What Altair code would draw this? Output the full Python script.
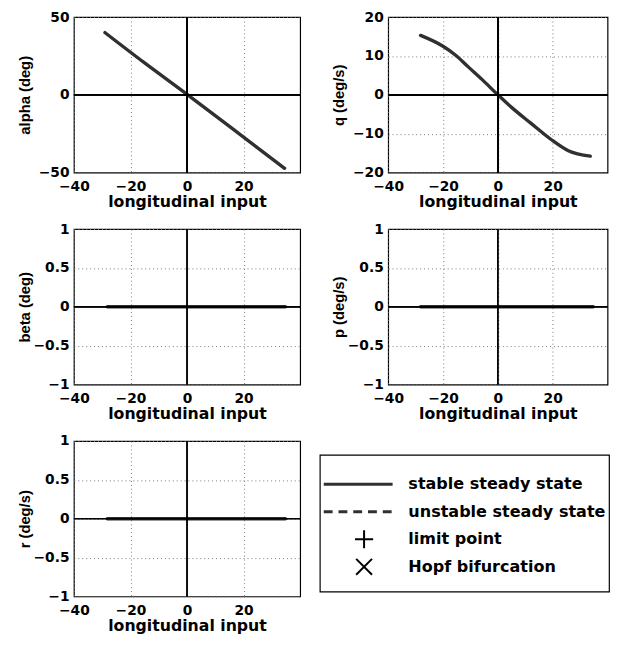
import altair as alt
import pandas as pd

# ---------------- data ----------------
x_ticks = [-40, -20, 0, 20]

alpha_x = [-29.0, -15.0, 0.0, 15.0, 34.5]
alpha_y = [40.0, 20.5, 0.3, -20.3, -47.3]

q_x = [-28.2, -20.0, -15.4, -10.9, -5.7, 0.0, 5.1, 12.0, 19.4, 25.7, 33.7]
q_y = [15.3, 12.5, 10.2, 7.25, 3.9, 0.0, -3.3, -7.3, -11.5, -14.4, -15.8]

flat_x = [-28.2, 0.0, 34.8]
beta_y = [0.0, 0.0, 0.0]
p_y = [0.0, 0.0, 0.0]
r_y = [0.0, 0.0, 0.0]

alpha_ticks = [-50, 0, 50]
q_ticks = [-20, -10, 0, 10, 20]
unit_ticks = [-1, -0.5, 0, 0.5, 1]

legend_labels = ["stable steady state", "unstable steady state", "limit point", "Hopf bifurcation"]
legend_order = [0, 1, 2, 3]

LINE_COLOR = "#303030"
TICK_FONT = "DejaVu Sans"
YTITLE_FONT = "Liberation Sans"

PLUS_PATH = "M-1,0H1M0,-1V1"
CROSS_PATH = "M-1,-1L1,1M-1,1L1,-1"

PANEL_H = 158


def panel(xs, ys, ytitle, ydomain, yticks, width, title_x):
    df = pd.DataFrame({"x": xs, "y": ys})
    xenc = alt.X(
        "x:Q",
        scale=alt.Scale(domain=[-40, 40], nice=False, zero=False),
        axis=alt.Axis(
            values=x_ticks,
            tickCount=len(x_ticks),
            title="longitudinal input",
            grid=True,
            labelFlush=False,
            labelOverlap=False,
            labelPadding=7,
            titlePadding=1,
        ),
    )
    yenc = alt.Y(
        "y:Q",
        scale=alt.Scale(domain=ydomain, nice=False, zero=False),
        axis=alt.Axis(
            values=yticks,
            tickCount=len(yticks),
            title=ytitle,
            format="~r",
            grid=True,
            labelFlush=False,
            labelOverlap=False,
            labelPadding=5,
            titleX=title_x,
            titleAngle=270,
            titleBaseline="bottom",
            titleFont=YTITLE_FONT,
            titleFontSize=15,
        ),
    )
    zero_v = alt.Chart(df).mark_rule(color="black", strokeWidth=1.2).encode(x=alt.datum(0))
    zero_h = alt.Chart(df).mark_rule(color="black", strokeWidth=1.2).encode(y=alt.datum(0))
    line = alt.Chart(df).mark_line(
        color=LINE_COLOR, strokeWidth=3.4, interpolate="monotone", strokeCap="round"
    ).encode(xenc, yenc)
    return alt.layer(line, zero_v, zero_h).properties(width=width, height=PANEL_H)


W_L = 230
W_R = 223

p_alpha = panel(alpha_x, alpha_y, "alpha (deg)", [-50, 50], alpha_ticks, W_L, -42)
p_q = panel(q_x, q_y, "q (deg/s)", [-20, 20], q_ticks, W_R, -42)
p_beta = panel(flat_x, beta_y, "beta (deg)", [-1, 1], unit_ticks, W_L, -42)
p_p = panel(flat_x, p_y, "p (deg/s)", [-1, 1], unit_ticks, W_R, -42)
p_r = panel(flat_x, r_y, "r (deg/s)", [-1, 1], unit_ticks, W_L, -42)

# ---------------- legend box ----------------
leg_df = pd.DataFrame({"label": legend_labels, "idx": legend_order})
leg_y = alt.Y("idx:Q", scale=alt.Scale(domain=[-1.07, 3.9], reverse=True, nice=False, zero=False), axis=None)

base = alt.Chart(leg_df)
leg_solid = base.transform_filter("datum.idx == 0").mark_rule(
    color=LINE_COLOR, strokeWidth=3
).encode(x=alt.value(4), x2=alt.value(74), y=leg_y)
leg_dash = base.transform_filter("datum.idx == 1").mark_rule(
    color=LINE_COLOR, strokeWidth=3, strokeDash=[9, 6]
).encode(x=alt.value(4), x2=alt.value(74), y=leg_y)
leg_plus = base.transform_filter("datum.idx == 2").mark_point(
    shape=PLUS_PATH, size=340, filled=False, color="black", strokeWidth=2, opacity=1
).encode(x=alt.value(45), y=leg_y)
leg_cross = base.transform_filter("datum.idx == 3").mark_point(
    shape=CROSS_PATH, size=260, filled=False, color="black", strokeWidth=2, opacity=1
).encode(x=alt.value(45), y=leg_y)
leg_text = base.mark_text(
    align="left", baseline="middle", font=TICK_FONT, fontSize=16.3, fontWeight="bold", color="black"
).encode(x=alt.value(90), y=leg_y, text="label:N")

legend = alt.layer(leg_solid, leg_dash, leg_plus, leg_cross, leg_text).properties(
    width=294, height=139
)

spacer = alt.Chart(leg_df).mark_point(opacity=0).encode(x=alt.value(0), y=alt.value(0)).properties(
    width=1, height=1, view=alt.ViewBackground(strokeOpacity=0, fill="white")
)

legend_col = alt.vconcat(spacer, legend, spacing=10)

row1 = alt.hconcat(p_alpha, p_q, spacing=29.5)
row2 = alt.hconcat(p_beta, p_p, spacing=29.5)
row3 = alt.hconcat(p_r, legend_col, spacing=15)

chart = alt.vconcat(row1, row2, row3, spacing=10.5).properties(
    padding={"left": 9, "top": -4, "right": 0, "bottom": 0}
).configure_view(
    stroke="black", strokeWidth=1.2
).configure_axis(
    labelFont=TICK_FONT,
    labelFontSize=14,
    labelFontWeight="bold",
    labelColor="black",
    titleFont=TICK_FONT,
    titleFontSize=16,
    titleFontWeight="bold",
    titleColor="black",
    domain=False,
    ticks=False,
    gridColor="#777777",
    gridDash=[1, 3],
    gridWidth=1,
    gridOpacity=1,
)

chart.save("out.html", embed_options={"renderer": "svg", "actions": False})
